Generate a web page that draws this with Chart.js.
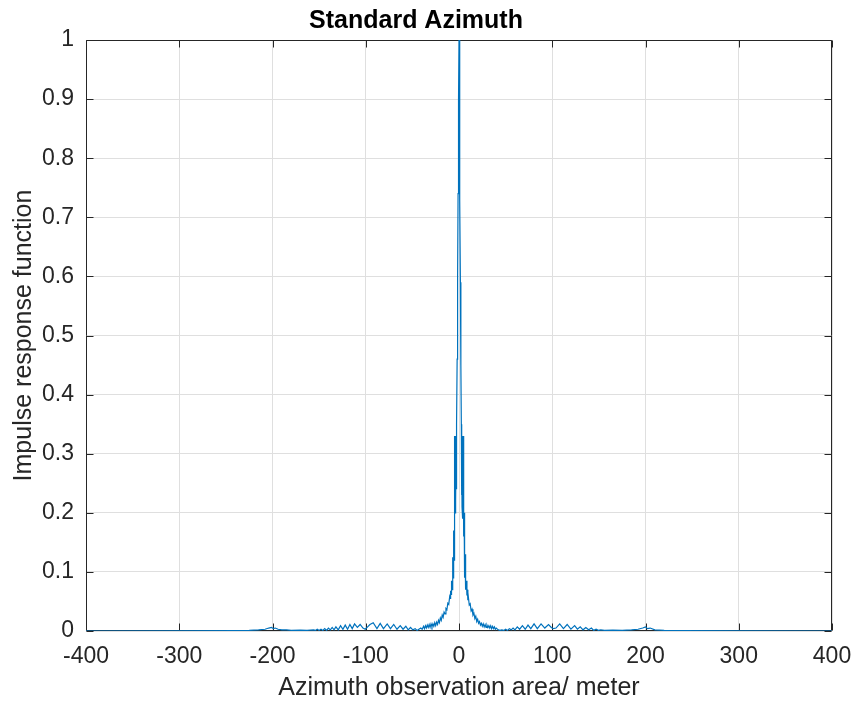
<!DOCTYPE html>
<html lang="en">
<head>
    <meta charset="UTF-8">
    <title>Standard Azimuth</title>
    <script src="https://cdn.jsdelivr.net/npm/chart.js"></script>
    <style type="text/css">
        body{
            margin: 0;
            background: #ffffff;
        }
        canvas{
            display: block;
        }
    </style>
</head>
<body>
    <canvas id="myChart" width="854" height="707"></canvas>
    <script>
        // azimuth position (m) and normalised impulse response at each point
        const azimuth = [
            -400, -300, -240, -225, -215, -208, -204, -201, -199, -197, -194, -190, -185, -180, -170, -163,
            -156, -154, -152, -150, -148, -146, -144, -142, -140, -138, -136, -134, -132, -129.5, -127, -124.5,
            -122, -119.5, -117, -114.5, -112, -109, -106, -103, -100.5, -98, -95.5, -92, -88, -84.5, -81, -77,
            -73.5, -70, -66.5, -63, -60, -57, -54.5, -52, -49.5, -47, -45, -43, -41, -39.5, -38, -37,
            -36, -35, -34, -33, -32, -31, -30, -29, -28, -27, -26, -25, -24, -23, -22, -21,
            -20, -19, -18, -17, -16, -15, -14, -13, -12, -11, -10, -9.5, -9, -8.5, -8, -7.5,
            -7, -6.75, -6.5, -6.25, -6, -5.75, -5.5, -5.25, -5, -4.75, -4.5, -4.25, -4, -3.75, -3.5, -3.25,
            -3, -2.75, -2.5, -2, -1.5, -1, -0.5, 0,
            0.5, 1, 1.5, 2, 2.5, 2.75, 3, 3.25, 3.5, 3.75, 4, 4.25, 4.5, 4.75, 5, 5.25,
            5.5, 5.75, 6, 6.25, 6.5, 6.75, 7, 7.5, 8, 8.5, 9, 9.5, 10, 11, 12, 13,
            14, 15, 16, 17, 18, 19, 20, 21, 22, 23, 24, 25, 26, 27, 28, 29,
            30, 31, 32, 33, 34, 35, 36, 37, 38, 39, 40, 42, 44, 46, 48, 50,
            52, 54, 56, 58, 60, 62.5, 65, 68, 71, 74, 77, 80.5, 84, 88, 92, 96,
            99, 101, 104, 108, 112, 116, 120, 124, 127, 130, 133, 136, 139, 142, 144.5, 147,
            149.5, 152, 156, 165, 175, 185, 192, 197, 200, 202, 205, 210, 220, 240, 300, 400
        ];
        const response = [
            0, 0.0002, 0.0005, 0.001, 0.002, 0.003, 0.005, 0.006, 0.004, 0.005, 0.003, 0.002, 0.002, 0.001, 0.0015, 0.001,
            0.002, 0.001, 0.003, 0.001, 0.003, 0.001, 0.004, 0.001, 0.005, 0.002, 0.006, 0.002, 0.007, 0.002, 0.009, 0.003,
            0.010, 0.003, 0.011, 0.004, 0.012, 0.006, 0.011, 0.005, 0.003, 0.007, 0.011, 0.014, 0.004, 0.013, 0.004, 0.012,
            0.004, 0.011, 0.003, 0.009, 0.003, 0.008, 0.002, 0.006, 0.002, 0.004, 0.001, 0.003, 0.005, 0.003, 0.008, 0.004,
            0.009, 0.005, 0.010, 0.006, 0.011, 0.006, 0.012, 0.007, 0.012, 0.008, 0.014, 0.009, 0.015, 0.011, 0.018, 0.014,
            0.022, 0.018, 0.027, 0.023, 0.032, 0.029, 0.038, 0.036, 0.047, 0.045, 0.058, 0.055, 0.068, 0.062, 0.085, 0.07,
            0.105, 0.08, 0.125, 0.09, 0.15, 0.10, 0.17, 0.12, 0.33, 0.19, 0.33, 0.20, 0.33, 0.21, 0.33, 0.22,
            0.32, 0.24, 0.35, 0.46, 0.60, 0.74, 0.90, 1,
            0.89, 0.73, 0.59, 0.45, 0.35, 0.23, 0.32, 0.21, 0.33, 0.20, 0.33, 0.19, 0.33, 0.18, 0.32, 0.16,
            0.20, 0.11, 0.16, 0.09, 0.13, 0.08, 0.11, 0.07, 0.085, 0.06, 0.07, 0.052, 0.058, 0.044, 0.046, 0.034,
            0.037, 0.027, 0.030, 0.021, 0.025, 0.016, 0.020, 0.013, 0.016, 0.010, 0.013, 0.008, 0.012, 0.007, 0.011, 0.006,
            0.010, 0.006, 0.009, 0.005, 0.009, 0.004, 0.008, 0.004, 0.007, 0.003, 0.005, 0.002, 0.001, 0.002, 0.001, 0.003,
            0.001, 0.004, 0.002, 0.005, 0.002, 0.007, 0.003, 0.009, 0.003, 0.010, 0.004, 0.012, 0.004, 0.012, 0.005, 0.011,
            0.006, 0.004, 0.005, 0.012, 0.004, 0.011, 0.003, 0.009, 0.003, 0.007, 0.002, 0.006, 0.002, 0.005, 0.001, 0.003,
            0.001, 0.002, 0.001, 0.0015, 0.001, 0.002, 0.003, 0.005, 0.007, 0.004, 0.005, 0.002, 0.001, 0.0005, 0.0002, 0
        ];

        const xTicks = [-400, -300, -200, -100, 0, 100, 200, 300, 400];
        const xTickLabels = ['-400', '-300', '-200', '-100', '0', '100', '200', '300', '400'];
        const yTicks = [0, 0.1, 0.2, 0.3, 0.4, 0.5, 0.6, 0.7, 0.8, 0.9, 1];
        const yTickLabels = ['0', '0.1', '0.2', '0.3', '0.4', '0.5', '0.6', '0.7', '0.8', '0.9', '1'];

        const axisColor = '#262626';
        const tickLen = 7;

        // box round the plot area with inward ticks on all four sides
        const boxTicks = {
            id: 'boxTicks',
            beforeDatasetsDraw(chart) {
                const {ctx, chartArea: a, scales: {x, y}} = chart;
                const L = Math.round(a.left) + 0.5, R = Math.round(a.right) - 0.5;
                const T = Math.round(a.top) + 0.5, B = Math.round(a.bottom) - 0.5;
                ctx.save();
                ctx.strokeStyle = axisColor;
                ctx.lineWidth = 1;
                ctx.beginPath();
                ctx.rect(L, T, R - L, B - T);
                xTicks.forEach(v => {
                    const px = Math.round(x.getPixelForValue(v)) + 0.5;
                    ctx.moveTo(px, B); ctx.lineTo(px, B - tickLen);
                    ctx.moveTo(px, T); ctx.lineTo(px, T + tickLen);
                });
                yTicks.forEach(v => {
                    const py = Math.round(y.getPixelForValue(v)) + 0.5;
                    ctx.moveTo(L, py); ctx.lineTo(L + tickLen, py);
                    ctx.moveTo(R, py); ctx.lineTo(R - tickLen, py);
                });
                ctx.stroke();
                ctx.restore();
            }
        };

        Chart.defaults.font.family = '"Liberation Sans", Arial, sans-serif';
        Chart.defaults.color = axisColor;

        const data = {
            datasets: [{
                data: azimuth.map((v, i) => ({x: v, y: response[i]})),
                showLine: true,
                borderColor: '#0072BD',
                backgroundColor: '#0072BD',
                borderWidth: 1.2,
                pointRadius: 0,
                tension: 0
            }]
        };

        const config = {
            type: 'scatter',
            data: data,
            plugins: [boxTicks],
            options: {
                responsive: false,
                animation: false,
                devicePixelRatio: 1,
                layout: {padding: {left: 0, right: 22, top: 0, bottom: 0}},
                plugins: {
                    legend: {display: false},
                    tooltip: {enabled: false},
                    title: {
                        display: true,
                        text: 'Standard Azimuth',
                        color: '#000000',
                        font: {size: 25, weight: 'bold'},
                        padding: {top: 6, bottom: 4}
                    }
                },
                scales: {
                    x: {
                        type: 'linear',
                        min: -400,
                        max: 400,
                        afterBuildTicks: s => { s.ticks = xTicks.map(v => ({value: v})); },
                        afterFit: s => {
                            s.height = 76;
                            // let the layout padding alone set the right margin
                            s.paddingLeft = 0;
                            s.paddingRight = 0;
                        },
                        grid: {color: '#dfdfdf', drawTicks: false},
                        border: {display: false},
                        ticks: {
                            font: {size: 23},
                            padding: 12,
                            maxRotation: 0,
                            callback: v => xTickLabels[xTicks.indexOf(v)]
                        },
                        title: {
                            display: true,
                            text: 'Azimuth observation area/ meter',
                            font: {size: 25},
                            padding: {top: 0, bottom: 4}
                        }
                    },
                    y: {
                        type: 'linear',
                        min: 0,
                        max: 1,
                        afterBuildTicks: s => { s.ticks = yTicks.map(v => ({value: v})); },
                        afterFit: s => { s.width = 86; },
                        grid: {color: '#dfdfdf', drawTicks: false},
                        border: {display: false},
                        ticks: {
                            font: {size: 23},
                            padding: 12,
                            callback: v => yTickLabels[yTicks.indexOf(v)]
                        },
                        title: {
                            display: true,
                            text: 'Impulse response function',
                            font: {size: 25},
                            padding: {top: 9, bottom: 0}
                        }
                    }
                }
            }
        };
        const myChart = new Chart(document.getElementById('myChart'), config);
    </script>
</body>
</html>
